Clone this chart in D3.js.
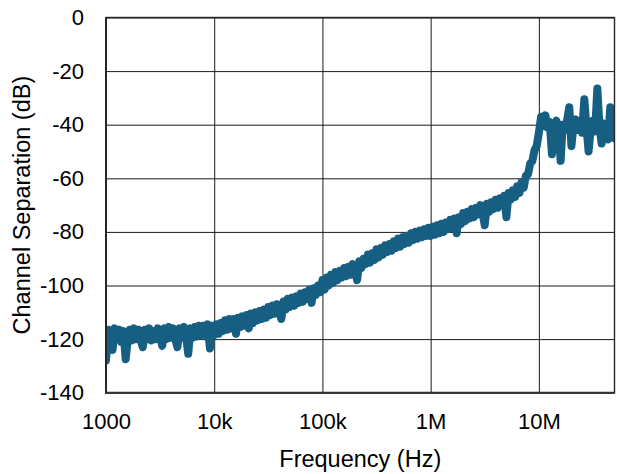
<!DOCTYPE html>
<html>
<head>
<meta charset="utf-8">
<script src="https://cdn.jsdelivr.net/npm/d3@7"></script>
<style>
  body { margin: 0; background: #fff; }
  text { font-family: "Liberation Sans", Arial, sans-serif; fill: #000; }
</style>
</head>
<body>
<div id="chart"></div>
<script>
// Frequency points (Hz)
const freqHz = [
  1000, 1050, 1100, 1150, 1200, 1260, 1320, 1380, 1450, 1520, 1590, 1660, 1740, 1820, 1910,
  2000, 2090, 2190, 2290, 2400, 2510, 2630, 2750, 2880, 3020, 3160, 3310, 3470, 3630, 3800,
  3980, 4170, 4370, 4570, 4790, 5010, 5250, 5500, 5750, 6030, 6310, 6610, 6920, 7240, 7590,
  7940, 8320, 8710, 9120, 9550,
  10000, 10500, 11000, 11500, 12000, 12600, 13200, 13800, 14500, 15200, 15900, 16600, 17400,
  18200, 19100, 20000, 20900, 21900, 22900, 24000, 25100, 26300, 27500, 28800, 30200, 31600,
  33100, 34700, 36300, 38000, 39800, 41700, 43700, 45700, 47900, 50100, 52500, 55000, 57500,
  60300, 63100, 66100, 69200, 72400, 75900, 79400, 83200, 87100, 91200, 95500,
  100000, 105000, 110000, 115000, 120000, 126000, 132000, 138000, 145000, 152000, 159000,
  166000, 174000, 182000, 191000, 200000, 209000, 219000, 229000, 240000, 251000, 263000,
  275000, 288000, 302000, 316000, 331000, 347000, 363000, 380000, 398000, 417000, 437000,
  457000, 479000, 501000, 525000, 550000, 575000, 603000, 631000, 661000, 692000, 724000,
  759000, 794000, 832000, 871000, 912000, 955000,
  1000000, 1050000, 1100000, 1150000, 1200000, 1260000, 1320000, 1380000, 1450000, 1520000,
  1590000, 1660000, 1740000, 1820000, 1910000, 2000000, 2090000, 2190000, 2290000, 2400000,
  2510000, 2630000, 2750000, 2880000, 3020000, 3160000, 3310000, 3470000, 3630000, 3800000,
  3980000, 4170000, 4370000, 4570000, 4790000, 5010000, 5250000, 5500000, 5750000, 6030000,
  6310000, 6610000, 6920000, 7240000, 7590000, 7940000, 8320000, 8710000, 9120000, 9550000,
  10000000, 10500000, 11000000, 11500000, 12000000, 12600000, 13200000, 13800000, 14500000,
  15200000, 15900000, 16600000, 17400000, 18200000, 19100000, 20000000, 20900000, 21900000,
  22900000, 24000000, 25100000, 26300000, 27500000, 28800000, 30200000, 31600000, 33100000,
  34700000, 36300000, 38000000, 39800000, 41700000, 43700000, 45700000, 47900000, 50100000
];

// Channel separation (dB) at each frequency
const separationDb = [
  -128, -116.5, -120.5, -124, -116, -120, -116.5, -121, -117, -127.5, -120, -116.5, -120.5, -116, -120,
  -116.5, -120.5, -123, -116.5, -120, -116, -120.5, -117, -120, -116, -119.5, -122.5, -116, -120, -115.5,
  -119.5, -116, -120, -123, -116, -119.5, -115.5, -119, -125.5, -116, -119.5, -115.5, -119, -115, -118.5,
  -115, -118.5, -114.5, -123.5, -115,
  -118.5, -114.5, -118, -114, -117, -113, -116.5, -112.5, -116, -112.5, -118, -112, -115.5,
  -111.5, -115, -111, -116, -110.5, -114, -110, -113, -109.5, -112.5, -109, -112, -108,
  -111, -107.5, -110.5, -107, -109.5, -112.5, -106, -109, -105, -108, -104.5, -107.5, -104,
  -106.5, -103, -106, -102.5, -105, -101.5, -106.5, -101, -103.5, -100, -102.5,
  -98, -101.5, -97, -100, -96, -99, -95, -98, -94.5, -97, -93.5,
  -96.5, -93, -96, -92, -94.5, -98, -91, -93.5, -90, -92, -88.5,
  -91.5, -88, -90.5, -86.5, -89.5, -86, -88.5, -85, -87.5, -84.5, -87,
  -83.5, -86, -82.5, -85.5, -82, -84.5, -81.5, -84, -80.5, -83, -80,
  -82.5, -79.5, -82, -79, -81.5, -78.5,
  -81.5, -78, -81, -77.5, -80.5, -77, -80, -76.5, -79, -75.5,
  -78.5, -75, -80.5, -74.5, -77, -73, -76, -72.5, -75, -71.5,
  -74.5, -71, -73.5, -70, -73, -77.5, -69.5, -72.5, -69, -71.5,
  -68, -71, -67.5, -70, -66.5, -74.5, -65.5, -68, -64.5, -67,
  -63, -65.5, -61.5, -63.5, -59, -58.5, -54.5, -53.5, -49.5, -48,
  -43, -37, -40.5, -36.5, -41, -39, -51, -40, -38.5,
  -41.5, -53.5, -40, -42, -38.5, -33.5, -48, -40, -38,
  -42, -39.5, -43, -30.5, -40.5, -50, -41, -38.5, -42.5,
  -26.5, -40.5, -47, -39.5, -42.5, -45.5, -33.5, -43, -45
];

const xTickValues = [1e3, 1e4, 1e5, 1e6, 1e7];
const xTickLabels = ["1000", "10k", "100k", "1M", "10M"];
const yTickValues = [0, -20, -40, -60, -80, -100, -120, -140];

const data = freqHz.map((f, i) => ({ f: f, db: separationDb[i] }));

// SVG dimensions
const width = 617;
const height = 474;
const plot = { left: 106, right: 614.5, top: 17.5, bottom: 392.7 };

const svg = d3.select("#chart")
  .append("svg")
  .attr("width", width)
  .attr("height", height)
  .style("display", "block");

svg.append("rect").attr("width", width).attr("height", height).attr("fill", "#fff");

const xScale = d3.scaleLog()
  .domain([1000, 5e7])
  .range([plot.left, plot.right]);

const yScale = d3.scaleLinear()
  .domain([-140, 0])
  .range([plot.bottom, plot.top]);

// Grid lines
svg.append("g")
  .attr("class", "x-grid")
  .attr("transform", `translate(0,${plot.bottom})`)
  .call(d3.axisBottom(xScale).tickValues(xTickValues).tickSize(-(plot.bottom - plot.top)).tickFormat(""))
  .call(g => g.select(".domain").remove())
  .call(g => g.selectAll("line").attr("stroke", "#1a1a1a").attr("stroke-width", 1));

svg.append("g")
  .attr("class", "y-grid")
  .attr("transform", `translate(${plot.left},0)`)
  .call(d3.axisLeft(yScale).tickValues(yTickValues).tickSize(-(plot.right - plot.left)).tickFormat(""))
  .call(g => g.select(".domain").remove())
  .call(g => g.selectAll("line").attr("stroke", "#1a1a1a").attr("stroke-width", 1));

// Clip for the trace
svg.append("clipPath")
  .attr("id", "plot-clip")
  .append("rect")
  .attr("x", plot.left)
  .attr("y", plot.top)
  .attr("width", plot.right - plot.left)
  .attr("height", plot.bottom - plot.top);

const line = d3.line()
  .x(d => xScale(d.f))
  .y(d => yScale(d.db));

svg.append("path")
  .datum(data)
  .attr("clip-path", "url(#plot-clip)")
  .attr("d", line)
  .attr("fill", "none")
  .attr("stroke", "#165f82")
  .attr("stroke-width", 8)
  .attr("stroke-linejoin", "round")
  .attr("stroke-linecap", "round");

// Frame
svg.append("rect")
  .attr("x", plot.left)
  .attr("y", plot.top)
  .attr("width", plot.right - plot.left)
  .attr("height", plot.bottom - plot.top)
  .attr("fill", "none")
  .attr("stroke", "#262626")
  .attr("stroke-width", 1.4);

svg.append("line")
  .attr("x1", plot.left).attr("x2", plot.left)
  .attr("y1", plot.top).attr("y2", plot.bottom + 1)
  .attr("stroke", "#262626").attr("stroke-width", 2);
svg.append("line")
  .attr("x1", plot.left - 1).attr("x2", plot.right)
  .attr("y1", plot.bottom).attr("y2", plot.bottom)
  .attr("stroke", "#333").attr("stroke-width", 2);

// Tick labels
const xAxis = d3.axisBottom(xScale)
  .tickValues(xTickValues)
  .tickFormat((d, i) => xTickLabels[i])
  .tickSize(0)
  .tickPadding(21);
svg.append("g")
  .attr("class", "x-axis")
  .attr("transform", `translate(0,${plot.bottom})`)
  .call(xAxis)
  .call(g => g.select(".domain").remove())
  .call(g => g.selectAll("text").style("font-size", "22px").attr("fill", "#000"));

const yAxis = d3.axisLeft(yScale)
  .tickValues(yTickValues)
  .tickFormat(d => String(d))
  .tickSize(0)
  .tickPadding(22);
svg.append("g")
  .attr("class", "y-axis")
  .attr("transform", `translate(${plot.left},0)`)
  .call(yAxis)
  .call(g => g.select(".domain").remove())
  .call(g => g.selectAll("text").style("font-size", "22px").attr("fill", "#000"));

// Axis titles
svg.append("text")
  .attr("x", (plot.left + plot.right) / 2)
  .attr("y", 467)
  .style("text-anchor", "middle")
  .style("font-size", "23.5px")
  .text("Frequency (Hz)");

svg.append("text")
  .attr("transform", `translate(30,${(plot.top + plot.bottom) / 2}) rotate(-90)`)
  .style("text-anchor", "middle")
  .style("font-size", "23.5px")
  .text("Channel Separation (dB)");
</script>
</body>
</html>
